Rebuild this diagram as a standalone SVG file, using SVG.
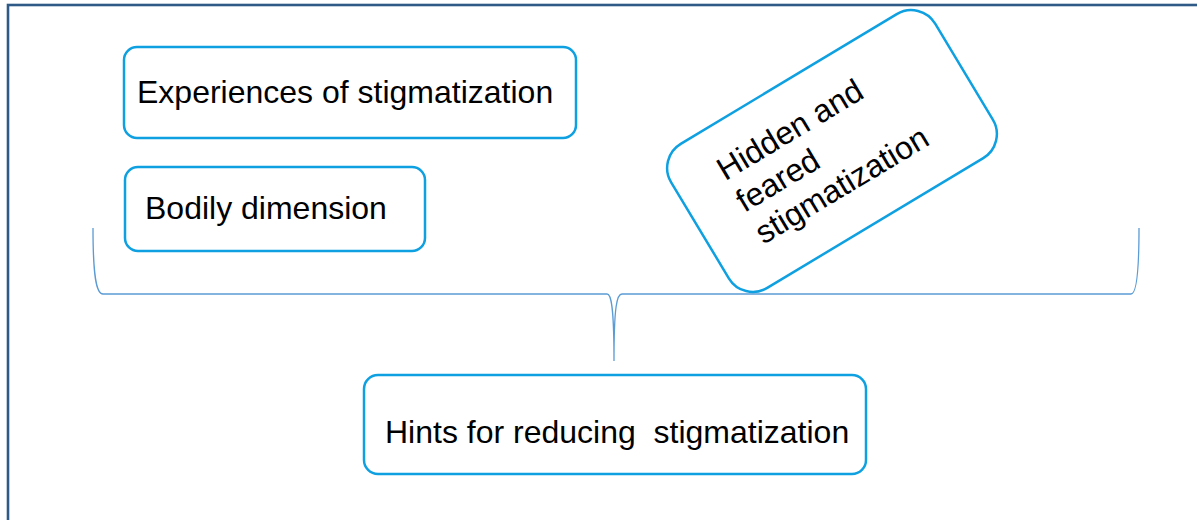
<svg xmlns="http://www.w3.org/2000/svg" width="1197" height="520" viewBox="0 0 1197 520">
<style>
.box{fill:#FFFFFF;stroke:#0EA0E0;stroke-width:2.5}
.t{font-family:"Liberation Sans",Arial,sans-serif;font-size:32px;fill:#000000}
.brace{fill:none;stroke:#5B9BD5;stroke-width:1.3}
</style>
<rect x="0" y="0" width="1197" height="520" fill="#FFFFFF"/>
<rect x="8" y="5" width="1200" height="530" fill="none" stroke="#2F5A88" stroke-width="2.6"/>
<g id="connectors">
<path class="brace" d="M93,228 C93,275 96,294 103,294 L607,294 C611,294 614,305 614,361 C614,305 617,294 622,294 L1131,294 C1136,294 1139,275 1139,228"/>
</g>
<g id="node-experiences">
<rect class="box" x="124" y="47" width="452" height="91" rx="13"/>
<text class="t" x="137" y="103">Experiences of stigmatization</text>
</g>
<g id="node-bodily">
<rect class="box" x="125" y="167" width="300" height="84" rx="13"/>
<text class="t" x="145" y="219">Bodily dimension</text>
</g>
<g id="node-hidden" transform="translate(832,151) rotate(-31)">
<rect class="box" x="-154" y="-84" width="308" height="168" rx="28"/>
<text class="t" x="-107" y="-29">Hidden and</text>
<text class="t" x="-107" y="8">feared</text>
<text class="t" x="-107" y="45">stigmatization</text>
</g>
<g id="node-hints">
<rect class="box" x="364" y="375" width="502" height="99" rx="14"/>
<text class="t" x="385" y="443" xml:space="preserve">Hints for reducing  stigmatization</text>
</g>
</svg>
